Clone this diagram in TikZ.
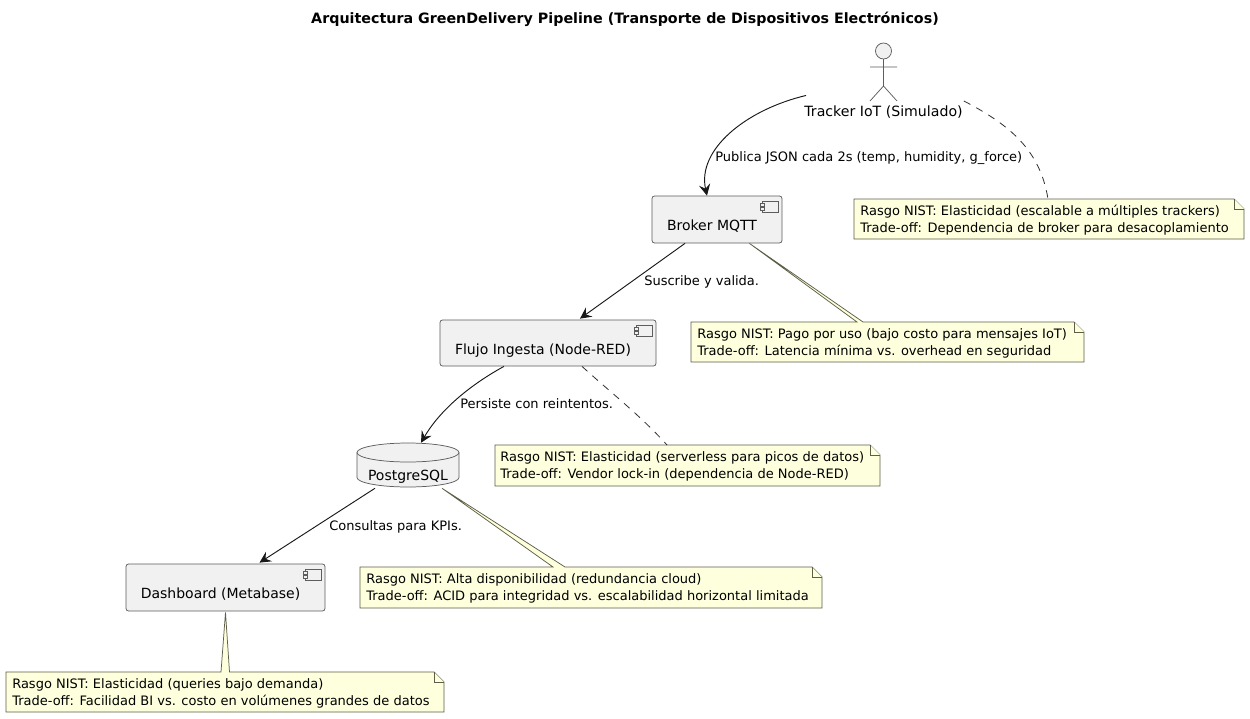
\documentclass[tikz,border=0pt]{standalone}
\usepackage{fontspec}
\setmainfont{DejaVu Sans}
\usetikzlibrary{calc,arrows.meta}
\definecolor{boxfill}{HTML}{F1F1F1}
\definecolor{notefill}{HTML}{FEFFDD}
\definecolor{lineink}{HTML}{181818}
\definecolor{noteink}{HTML}{5E5E48}
\tikzset{
  x=0.75pt,y=-0.75pt,
  thinline/.style={draw=lineink!70,line width=0.55pt},
  compbox/.style={thinline,fill=boxfill,rounded corners=1.9pt,inner sep=0pt,
    font=\fontsize{10.5}{12.75}\selectfont,text height=16.5pt,text depth=0pt,
    execute at end node={\hspace*{7.5pt}}},
  conn/.style={draw=lineink,line width=0.7pt,-{Stealth[length=8.5pt,width=8.5pt,inset=3.2pt]}},
  notelink/.style={draw=lineink!90,line width=0.6pt,dash pattern=on 5.5pt off 5pt},
  noteshape/.style={draw=noteink,fill=notefill,line width=0.55pt,line join=miter},
  notetext/.style={anchor=west,align=left,inner sep=0pt,font=\fontsize{9.75}{12.75}\selectfont},
  edgelabel/.style={inner sep=0pt,font=\fontsize{9.75}{12}\selectfont},
}
\newcommand{\compicon}[2]{%
  \draw[thinline,fill=boxfill] (#1,#2) rectangle ++(16,11);
  \draw[thinline,fill=boxfill] (#1-2,#2+2) rectangle ++(4,3);
  \draw[thinline,fill=boxfill] (#1-2,#2+6.5) rectangle ++(4,3);
}
\begin{document}
\begin{tikzpicture}
\useasboundingbox (0,0) rectangle (1250,718);
\fill[white] (0,0) rectangle (1250,718);

\node[inner sep=0pt,font=\bfseries\fontsize{10.7}{13}\selectfont] (title) at (625,19)
  {Arquitectura GreenDelivery Pipeline (Transporte de Dispositivos Electrónicos)};

% Actor
\draw[thinline,fill=boxfill] (883.5,51) circle[radius=8];
\draw[thinline] (883.5,59) -- (883.5,86) (870,67) -- (897,67) (870,101) -- (883.5,86) -- (897,101);
\node[inner sep=0pt,font=\fontsize{10.6}{13}\selectfont] (tracker) at (883.5,112) {Tracker IoT (Simulado)};

% Components
\node[compbox,minimum width=97.5pt,minimum height=35.25pt] (broker) at (717,219.5) {Broker MQTT};
\compicon{762}{201}
\node[compbox,minimum width=162pt,minimum height=34.5pt] (flujo) at (548,343) {Flujo Ingesta (Node-RED)};
\compicon{636}{325}
\node[compbox,minimum width=149.25pt,minimum height=35.25pt] (dash) at (225.5,587.5) {Dashboard (Metabase)};
\compicon{305}{569}

% Database
\draw[thinline,fill=boxfill] (357,452.5) -- (357,477.5) arc[start angle=180,end angle=360,x radius=51,y radius=-9.5] -- (459,452.5) arc[start angle=0,end angle=180,x radius=51,y radius=-9.5];
\draw[thinline] (357,452.5) arc[start angle=180,end angle=360,x radius=51,y radius=-9.5];
\node[inner sep=0pt,minimum width=76.5pt,minimum height=33pt,font=\fontsize{10.5}{12.75}\selectfont,text height=23.5pt,text depth=0pt] (pg) at (408,465) {PostgreSQL};

% Notes with a wedge or a dashed link
\draw[noteshape] (854,199) -- (1234,199) -- (1244,209) -- (1244,239) -- (854,239) -- cycle;
\draw[noteshape] (1234,199) -- (1234,209) -- (1244,209);
\coordinate (n1top) at (1048,199);
\node[notetext] (n1) at (860,220.5) {Rasgo NIST: Elasticidad (escalable a múltiples trackers)\\Trade-off: Dependencia de broker para desacoplamiento};

\draw[noteshape] (691,322) -- (857,322) -- ($(broker.south east)+(-33,0)$) -- (863,322) -- (1074,322) -- (1084,332) -- (1084,362) -- (691,362) -- cycle;
\draw[noteshape] (1074,322) -- (1074,332) -- (1084,332);
\node[notetext] (n2) at (697,343.5) {Rasgo NIST: Pago por uso (bajo costo para mensajes IoT)\\Trade-off: Latencia mínima vs. overhead en seguridad};

\draw[noteshape] (495,445) -- (870,445) -- (880,455) -- (880,486) -- (495,486) -- cycle;
\draw[noteshape] (870,445) -- (870,455) -- (880,455);
\coordinate (n3top) at (667,445);
\node[notetext] (n3) at (500,466.5) {Rasgo NIST: Elasticidad (serverless para picos de datos)\\Trade-off: Vendor lock-in (dependencia de Node-RED)};

\draw[noteshape] (360,567) -- (553,567) -- ($(pg.south)+(34,1)$) -- (565,567) -- (812,567) -- (822,577) -- (822,608) -- (360,608) -- cycle;
\draw[noteshape] (812,567) -- (812,577) -- (822,577);
\node[notetext] (n4) at (366,588.5) {Rasgo NIST: Alta disponibilidad (redundancia cloud)\\Trade-off: ACID para integridad vs. escalabilidad horizontal limitada};

\draw[noteshape] (6,672) -- (221,672) -- ($(dash.south)+(0,1)$) -- (229.5,672) -- (434,672) -- (444,682) -- (444,712) -- (6,712) -- cycle;
\draw[noteshape] (434,672) -- (434,682) -- (444,682);
\node[notetext] (n5) at (12,693) {Rasgo NIST: Elasticidad (queries bajo demanda)\\Trade-off: Facilidad BI vs. costo en volúmenes grandes de datos};

% Connectors
\draw[conn] ($(tracker.north west)+(2,-10)$) .. controls (745,110) and (697,150) .. ($(broker.north)+(-10,0)$);
\draw[conn] ($(broker.south)+(-32,0)$) -- ($(flujo.north)+(32,-1)$);
\draw[conn] ($(flujo.south)+(-44,0)$) .. controls (470,385) and (440,410) .. ($(pg.north)+(13,0)$);
\draw[conn] ($(pg.south)+(-33,1)$) -- ($(dash.north)+(34,-1)$);
\draw[notelink] ($(tracker.east)+(1,-11)$) .. controls (1010,125) and (1040,150) .. (n1top);
\draw[notelink] ($(flujo.south)+(34,0)$) .. controls (610,392) and (640,415) .. (n3top);

% Edge labels
\node[edgelabel,anchor=west] (l1) at (715,158) {Publica JSON cada 2s (temp, humidity, g\_force)};
\node[edgelabel,anchor=west] (l2) at (644,282) {Suscribe y valida.};
\node[edgelabel,anchor=west] (l3) at (460,404) {Persiste con reintentos.};
\node[edgelabel,anchor=west] (l4) at (329,527) {Consultas para KPIs.};
\end{tikzpicture}
\end{document}
